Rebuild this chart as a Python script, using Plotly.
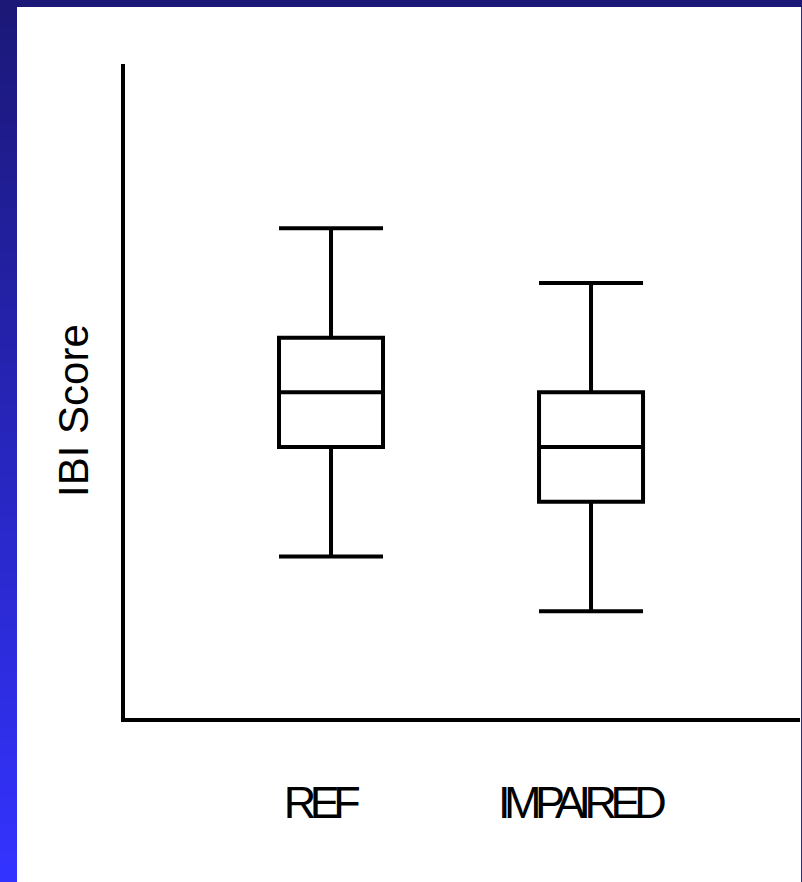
import plotly.graph_objects as go

# Data
categories = ["REF", "IMPAIRED"]
lower_fence = [15, 10]
q1 = [25, 20]
median = [30, 25]
q3 = [35, 30]
upper_fence = [45, 40]

W, H = 802, 882
L, R, T, B = 125, 2, 64, 164
pw, ph = W - L - R, H - T - B

def fx(px):
    return (px - L) / pw

def fy(py):
    return (H - B - py) / ph

fig = go.Figure()
fig.add_trace(go.Box(
    x=categories,
    q1=q1, median=median, q3=q3,
    lowerfence=lower_fence, upperfence=upper_fence,
    width=0.4,
    whiskerwidth=1,
    fillcolor="white",
    line=dict(color="black", width=4),
    boxpoints=False,
    hoverinfo="skip",
    showlegend=False,
))

shapes = []
# left gradient strip (bands, slightly overlapping)
n = 63
c0 = (27, 24, 120)
c1 = (51, 51, 255)
for i in range(n):
    t = i / (n - 1)
    col = tuple(int(round(c0[k] + (c1[k] - c0[k]) * t)) for k in range(3))
    y0p = H * i / n - 1
    y1p = H * (i + 1) / n + 1
    shapes.append(dict(type="rect", xref="paper", yref="paper",
                       x0=fx(-1), x1=fx(17), y0=fy(y1p), y1=fy(y0p),
                       fillcolor="rgb(%d,%d,%d)" % col, line=dict(width=0),
                       layer="above"))
# top dark strip
shapes.append(dict(type="rect", xref="paper", yref="paper",
                   x0=fx(-1), x1=fx(W + 1), y0=fy(7), y1=fy(-1),
                   fillcolor="#1b1878", line=dict(width=0), layer="above"))
# right thin strip
shapes.append(dict(type="rect", xref="paper", yref="paper",
                   x0=fx(801), x1=fx(W + 1), y0=fy(H + 1), y1=fy(7),
                   fillcolor="#2a28c0", line=dict(width=0), layer="above"))

fig.update_layout(
    width=W, height=H,
    margin=dict(l=L, r=R, t=T, b=B),
    paper_bgcolor="white",
    plot_bgcolor="white",
    shapes=shapes,
    showlegend=False,
    xaxis=dict(
        type="category",
        range=[-0.7923, 1.8037],
        showline=True, linecolor="black", linewidth=4,
        showgrid=False, zeroline=False, ticks="",
        tickfont=dict(family="Liberation Sans, Arial", size=45, color="black"),
        ticklabelstandoff=42,
        ticklabelshift=-12,
    ),
    yaxis=dict(
        range=[0.25, 60],
        showline=True, linecolor="black", linewidth=4,
        showgrid=False, zeroline=False, ticks="", showticklabels=False,
    ),
    annotations=[dict(
        text="IBI Score", xref="paper", yref="paper",
        x=fx(73), y=fy(411), xanchor="center", yanchor="middle",
        textangle=-90, showarrow=False,
        font=dict(family="Liberation Sans, Arial", size=42, color="black"),
    )],
)

post = (
    "document.body.style.margin='0';"
    "document.body.style.overflow='hidden';"
    "document.querySelectorAll('.xtick text').forEach(function(t){"
    "t.style.letterSpacing='-6.5px';});"
)
fig.write_html("out.html", post_script=post,
               config={"displayModeBar": False, "staticPlot": True})
